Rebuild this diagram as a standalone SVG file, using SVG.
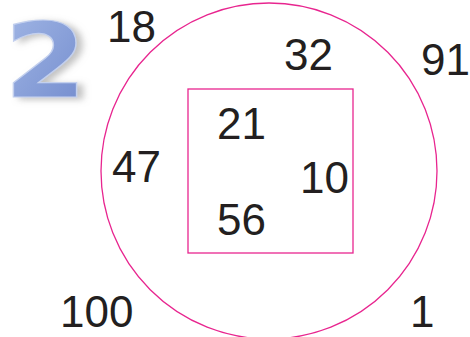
<svg xmlns="http://www.w3.org/2000/svg" width="470" height="337" viewBox="0 0 470 337">
<style>
.n{font-family:"Liberation Sans",Arial,sans-serif;font-size:44px;fill:#231f20}
.mg{fill:none;stroke:#e8258f;stroke-width:1.3}
</style>
<defs>
<linearGradient id="bg" x1="0" y1="0" x2="1" y2="1">
<stop offset="0" stop-color="#a3b8e6"/>
<stop offset="1" stop-color="#7089cc"/>
</linearGradient>
<filter id="sh" x="-30%" y="-30%" width="160%" height="160%">
<feDropShadow dx="5" dy="2" stdDeviation="3" flood-color="#9a9a9a" flood-opacity="0.6"/>
</filter>
</defs>
<rect width="470" height="337" fill="#ffffff"/>
<g id="badge">
<text x="4" y="97" transform="translate(4 97) scale(1.18 1.03) translate(-4 -97)" font-family="DejaVu Sans" font-weight="bold" font-size="101" fill="url(#bg)" stroke="#c3d0ee" stroke-width="1.2" filter="url(#sh)">2</text>
</g>
<g id="shapes">
<circle id="circle" class="mg" cx="269" cy="171" r="168"/>
<rect id="square" class="mg" x="188" y="89" width="165" height="164"/>
</g>
<g id="numbers">
<text id="n18" class="n" x="107" y="42">18</text>
<text id="n32" class="n" x="284" y="70">32</text>
<text id="n91" class="n" x="421" y="75">91</text>
<text id="n21" class="n" x="217" y="139">21</text>
<text id="n10" class="n" x="300" y="193">10</text>
<text id="n56" class="n" x="217" y="235">56</text>
<text id="n47" class="n" x="112" y="182">47</text>
<text id="n100" class="n" x="60" y="327">100</text>
<text id="n1" class="n" x="410" y="327">1</text>
</g>
</svg>
